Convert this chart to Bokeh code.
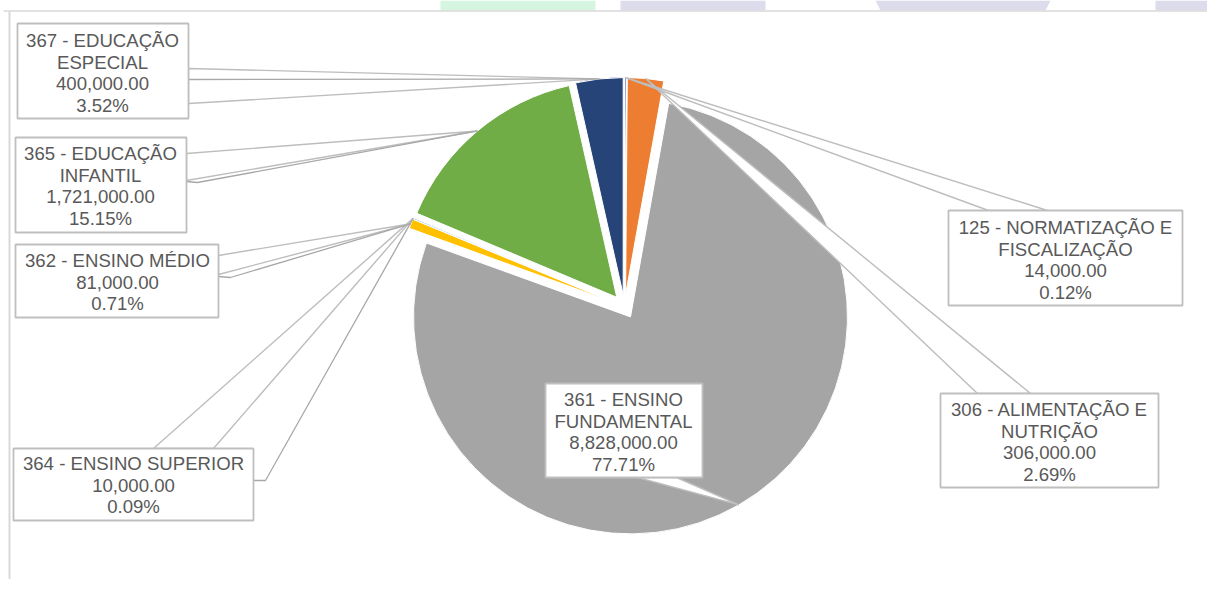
import numpy as np
from bokeh.plotting import figure
from bokeh.models import Range1d
from bokeh.core.properties import value
from bokeh.embed import file_html
from bokeh.resources import INLINE

# ---------------- data ----------------
names = ["125 - NORMATIZAÇÃO E\nFISCALIZAÇÃO", "306 - ALIMENTAÇÃO E\nNUTRIÇÃO",
         "361 - ENSINO\nFUNDAMENTAL", "362 - ENSINO MÉDIO", "364 - ENSINO SUPERIOR",
         "365 - EDUCAÇÃO\nINFANTIL", "367 - EDUCAÇÃO\nESPECIAL"]
values = [14000, 306000, 8828000, 81000, 10000, 1721000, 400000]
colors = ["#4472C4", "#ED7D31", "#A5A5A5", "#FFC000", "#5B9BD5", "#70AD47", "#264478"]

# ---------------- layout (screen px) ----------------
CX, CY, R, EXPL = 624, 306, 217, 12
LINE_H = 21.5
# box: (x0, x1, y0, y1), text centre x, first line y, tail base points, extra leader points
layout = {
    0: dict(box=(948, 1182, 210, 305), tx=1065, ty=227, base=[(988, 210), (1047, 210)], extra=None),
    1: dict(box=(940, 1158, 393, 487), tx=1049, ty=409, base=[(977, 393), (1030, 393)], extra=None),
    2: dict(box=(545, 702, 383, 477), tx=623, ty=399, base=[(637, 477), (676, 477)], extra=None),
    3: dict(box=(15, 218, 244, 317), tx=117, ty=260, base=[(218, 255), (218, 274)], extra=[(218, 276), (230, 277)]),
    4: dict(box=(13, 253, 448, 520), tx=133, ty=463, base=[(153, 448), (213, 448)], extra=[(253, 480), (265, 480)]),
    5: dict(box=(15, 186, 137, 232), tx=100, ty=153, base=[(186, 153), (186, 180)], extra=[(186, 181), (197, 182)]),
    6: dict(box=(17, 188, 23, 118), tx=102, ty=40, base=[(188, 68), (188, 103)], extra=[(188, 79)]),
}

W, H = 1207, 579
p = figure(width=W, height=H, x_range=Range1d(0, W), y_range=Range1d(-H, 0),
           output_backend="svg", toolbar_location=None, min_border=0)
p.axis.visible = False
p.grid.visible = False
p.outline_line_color = None
p.background_fill_color = "white"
p.border_fill_color = "white"

def Y(y):
    return -y

# watermark shapes at the very top and chart border
p.quad(left=[440, 620, 1155], right=[595, 765, 1207], top=[Y(0)] * 3, bottom=[Y(10)] * 3,
       fill_color=["#D5F5E0", "#DCDCEC", "#DCDCEC"], line_color=None)
p.patch([875, 1050, 1045, 880], [Y(0), Y(0), Y(10), Y(10)], fill_color="#DCDCEC", line_color=None)
p.line([3, 1207], [Y(10.5), Y(10.5)], line_color="#D9D9D9", line_width=1.5)
p.line([9, 9], [Y(10.5), Y(579)], line_color="#D9D9D9", line_width=2)

# ---------------- pie ----------------
vals = np.array(values, dtype=float)
total = vals.sum()
frac = vals / total
cum = np.concatenate([[0], np.cumsum(frac)])
theta0 = 2 * np.pi * cum[:-1]          # clockwise from top
theta1 = 2 * np.pi * cum[1:]
thm = (theta0 + theta1) / 2
wx = CX + EXPL * np.sin(thm)
wy = Y(CY) + EXPL * np.cos(thm)
p.wedge(x=wx, y=wy, radius=R, start_angle=np.pi / 2 - theta1, end_angle=np.pi / 2 - theta0,
        fill_color=colors, line_color="white", line_width=1)

# apex points: outer arc midpoint of each exploded slice
ax = wx + R * np.sin(thm)
ay = wy + R * np.cos(thm)

# ---------------- callouts ----------------
tail_xs, tail_ys = [], []
for i, L in layout.items():
    (b1, b2) = L["base"]
    tail_xs.append([b1[0], ax[i], b2[0]])
    tail_ys.append([Y(b1[1]), ay[i], Y(b2[1])])
p.patches(tail_xs, tail_ys, fill_color="white", line_color="#BDBDBD", line_width=1.4)

for i, L in layout.items():
    if L["extra"]:
        pts = L["extra"]
        xs = [q[0] for q in pts] + [ax[i]]
        ys = [Y(q[1]) for q in pts] + [ay[i]]
        p.line(xs, ys, line_color="#A8A8A8", line_width=1.3)

bl = [layout[i]["box"][0] for i in layout]
br = [layout[i]["box"][1] for i in layout]
bt = [Y(layout[i]["box"][2]) for i in layout]
bb = [Y(layout[i]["box"][3]) for i in layout]
p.quad(left=bl, right=br, top=bt, bottom=bb, fill_color="white", line_color="#BFBFBF", line_width=1.8)

tx, ty, tt = [], [], []
for i, L in layout.items():
    lines = names[i].split("\n") + [f"{values[i]:,.2f}", f"{frac[i] * 100:.2f}%"]
    for k, s in enumerate(lines):
        tx.append(L["tx"])
        ty.append(Y(L["ty"] + k * LINE_H))
        tt.append(s)
p.text(x=tx, y=ty, text=tt, text_font=value("Liberation Sans"), text_font_size="18.6px",
       text_color="#595959", text_align="center", text_baseline="middle")

open("out.html", "w").write(file_html(p, INLINE))
